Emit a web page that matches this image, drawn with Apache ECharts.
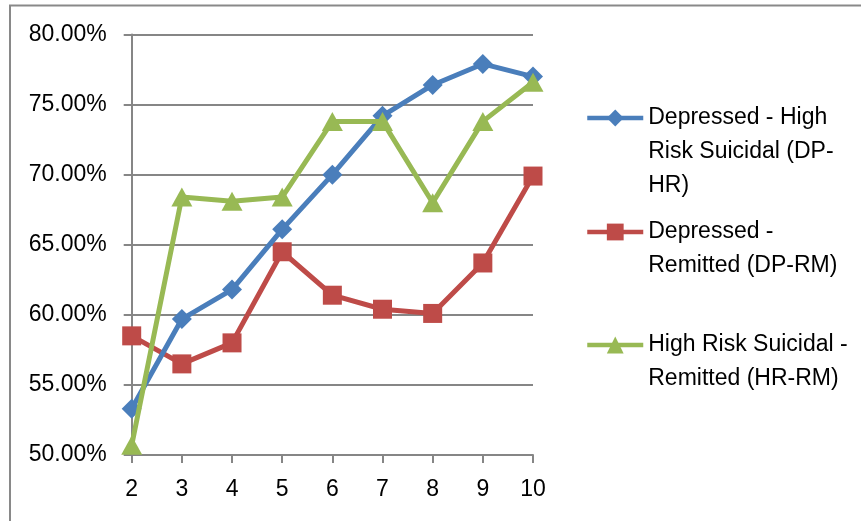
<!DOCTYPE html>
<html>
<head>
<meta charset="utf-8">
<script src="https://cdn.jsdelivr.net/npm/echarts@6/dist/echarts.min.js"></script>
<style>
html,body{margin:0;padding:0;background:#fff;}
#chart{width:861px;height:521px;}
</style>
</head>
<body>
<div id="chart"></div>
<script>
var categories = ['2','3','4','5','6','7','8','9','10'];
var seriesNames = ['Depressed - High Risk Suicidal (DP-HR)', 'Depressed - Remitted (DP-RM)', 'High Risk Suicidal - Remitted (HR-RM)'];
var legendLines = [
  ['Depressed - High', 'Risk Suicidal (DP-', 'HR)'],
  ['Depressed -', 'Remitted (DP-RM)'],
  ['High Risk Suicidal -', 'Remitted (HR-RM)']
];
var dpHr = [53.3, 59.7, 61.8, 66.1, 70.0, 74.2, 76.4, 77.9, 77.0];
var dpRm = [58.5, 56.5, 58.0, 64.5, 61.4, 60.4, 60.1, 63.7, 69.9];
var hrRm = [50.7, 68.4, 68.1, 68.4, 73.8, 73.8, 68.0, 73.8, 76.6];
var yTicks = [50, 55, 60, 65, 70, 75, 80];

var colors = ['#4A7EBB', '#BE4B48', '#98B954'];
var font = 'Liberation Sans, Arial, sans-serif';
var LH = 34;

var chart = echarts.init(document.getElementById('chart'), null, {renderer: 'canvas'});

// icon centre y for each legend entry (first text line aligned with icon)
var legendIconY = [118, 232, 345];

function makeLegend(i) {
  var lines = legendLines[i];
  var pad = [];
  for (var k = 0; k < lines.length - 1; k++) pad.push(' ');
  var txt = pad.concat(lines).join('\n');
  var total = pad.length + lines.length;
  return {
    data: [seriesNames[i]],
    left: 585,
    top: legendIconY[i] - total * LH / 2,
    orient: 'vertical',
    itemWidth: 56,
    itemHeight: 21,
    itemGap: 0,
    padding: 0,
    selectedMode: false,
    lineStyle: {width: 4.5},
    formatter: function () { return txt; },
    textStyle: {
      fontFamily: font,
      fontSize: 23,
      color: '#000',
      lineHeight: LH
    }
  };
}

var option = {
  animation: false,
  backgroundColor: '#fff',
  color: colors,
  graphic: [{
    type: 'rect',
    shape: {x: 10, y: 5.5, width: 900, height: 600},
    style: {fill: 'none', stroke: '#898989', lineWidth: 2},
    silent: true,
    z: -1
  }],
  grid: {left: 131.7, right: 328, top: 34.5, bottom: 66, containLabel: false},
  legend: [makeLegend(0), makeLegend(1), makeLegend(2)],
  xAxis: {
    type: 'category',
    data: categories,
    boundaryGap: false,
    axisLine: {lineStyle: {color: '#868686', width: 2}},
    axisTick: {show: true, alignWithLabel: true, length: 8, lineStyle: {color: '#868686', width: 2}},
    axisLabel: {fontFamily: font, fontSize: 23, color: '#000', margin: 23},
    splitLine: {show: false}
  },
  yAxis: {
    type: 'value',
    min: yTicks[0],
    max: yTicks[yTicks.length - 1],
    interval: 5,
    axisLine: {show: true, lineStyle: {color: '#868686', width: 2}},
    axisTick: {show: true, length: 8, lineStyle: {color: '#868686', width: 2}},
    axisLabel: {fontFamily: font, fontSize: 23, color: '#000', margin: 25,
      formatter: function (v) { return v.toFixed(2) + '%'; }},
    splitLine: {show: true, lineStyle: {color: '#868686', width: 2}}
  },
  series: [
    {name: seriesNames[0], type: 'line', data: dpHr, symbol: 'diamond', symbolSize: 20,
      lineStyle: {width: 5, color: colors[0]}, itemStyle: {color: colors[0]}, z: 3},
    {name: seriesNames[1], type: 'line', data: dpRm, symbol: 'rect', symbolSize: 19,
      lineStyle: {width: 5, color: colors[1]}, itemStyle: {color: colors[1]}, z: 2},
    {name: seriesNames[2], type: 'line', data: hrRm, symbol: 'triangle', symbolSize: [21, 19],
      lineStyle: {width: 5, color: colors[2]}, itemStyle: {color: colors[2]}, z: 4}
  ]
};
chart.setOption(option);
</script>
</body>
</html>
